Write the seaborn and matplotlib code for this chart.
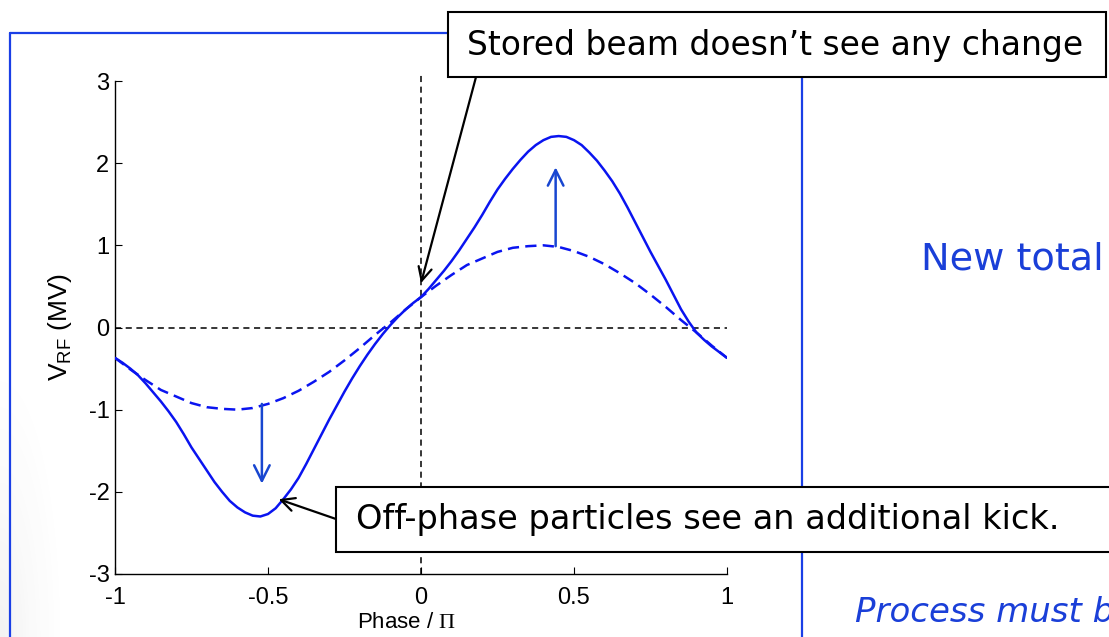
import numpy as np
import pandas as pd
import matplotlib
matplotlib.use("Agg")
import matplotlib.pyplot as plt
import seaborn as sns
from matplotlib.lines import Line2D
from matplotlib.patches import Rectangle

# ---------------- data ----------------
# dashed curve: original RF voltage
phase_old = [-1.00, -0.95, -0.90, -0.85, -0.80, -0.75, -0.70, -0.65, -0.60, -0.55,
             -0.50, -0.45, -0.40, -0.35, -0.30, -0.25, -0.20, -0.15, -0.10, -0.05,
             0.00, 0.05, 0.10, 0.15, 0.20, 0.25, 0.30, 0.35, 0.40, 0.45,
             0.50, 0.55, 0.60, 0.65, 0.70, 0.75, 0.80, 0.85, 0.90, 0.95, 1.00]
v_old = [-0.37, -0.51, -0.64, -0.76, -0.84, -0.92, -0.97, -0.99, -1.00, -0.98,
         -0.93, -0.86, -0.77, -0.66, -0.54, -0.40, -0.25, -0.09, 0.06, 0.22,
         0.37, 0.51, 0.64, 0.76, 0.84, 0.92, 0.97, 0.99, 1.00, 0.98,
         0.93, 0.86, 0.77, 0.66, 0.54, 0.40, 0.25, 0.09, -0.06, -0.22, -0.37]

# solid curve: new total RF voltage
phase_new = [-1.000, -0.975, -0.950, -0.925, -0.900, -0.875, -0.850, -0.825, -0.800, -0.775,
             -0.750, -0.725, -0.700, -0.675, -0.650, -0.625, -0.600, -0.575, -0.550, -0.525,
             -0.500, -0.475, -0.450, -0.425, -0.400, -0.375, -0.350, -0.325, -0.300, -0.275,
             -0.250, -0.225, -0.200, -0.175, -0.150, -0.125, -0.100, -0.075, -0.050, -0.025,
             0.000, 0.025, 0.050, 0.075, 0.100, 0.125, 0.150, 0.175, 0.200, 0.225,
             0.250, 0.275, 0.300, 0.325, 0.350, 0.375, 0.400, 0.425, 0.450, 0.475,
             0.500, 0.525, 0.550, 0.575, 0.600, 0.625, 0.650, 0.675, 0.700, 0.725,
             0.750, 0.775, 0.800, 0.825, 0.850, 0.875, 0.900, 0.925, 0.950, 0.975, 1.000]
v_new = [-0.37, -0.43, -0.50, -0.58, -0.68, -0.79, -0.90, -1.02, -1.15, -1.30,
         -1.46, -1.60, -1.74, -1.88, -2.00, -2.11, -2.19, -2.25, -2.29, -2.30,
         -2.27, -2.20, -2.09, -1.97, -1.83, -1.66, -1.48, -1.30, -1.12, -0.95,
         -0.78, -0.62, -0.47, -0.33, -0.20, -0.08, 0.03, 0.13, 0.22, 0.30,
         0.37, 0.47, 0.58, 0.69, 0.81, 0.94, 1.08, 1.22, 1.37, 1.53,
         1.68, 1.81, 1.93, 2.04, 2.14, 2.22, 2.28, 2.32, 2.33, 2.32,
         2.28, 2.22, 2.13, 2.03, 1.91, 1.78, 1.63, 1.46, 1.28, 1.10,
         0.92, 0.75, 0.58, 0.40, 0.22, 0.07, -0.06, -0.15, -0.23, -0.30, -0.37]

x_ticks = [-1, -0.5, 0, 0.5, 1]
x_ticklabels = ["-1", "-0.5", "0", "0.5", "1"]
y_ticks = [-3, -2, -1, 0, 1, 2, 3]
y_ticklabels = ["-3", "-2", "-1", "0", "1", "2", "3"]

# blue "change" arrows: (x, y_from, y_to)
kick_arrows = [(-0.52, -0.93, -1.90), (0.44, 0.99, 1.95)]
# annotation targets (data coords)
stored_target = (0.0, 0.54)
offphase_target = (-0.465, -2.09)

label_stored = "Stored beam doesn\u2019t see any change"
label_off = "Off-phase particles see an additional kick."
label_new = "New total"
label_process = "Process must be"

# ---------------- figure ----------------
sns.set_theme(style="white")
plt.rcParams["font.family"] = ["DejaVu Sans"]
plt.rcParams["mathtext.fontset"] = "custom"
plt.rcParams["mathtext.rm"] = "Liberation Serif"
plt.rcParams["mathtext.sf"] = "Liberation Sans"

W, H = 1109, 637
fig = plt.figure(figsize=(W / 100, H / 100), dpi=100)
fig.patch.set_facecolor("white")

def fx(px):
    return px / W

def fy(py):
    return 1 - py / H

# faint grey slide shading in lower-left corner
bg = fig.add_axes([0, 0, 1, 1], zorder=-5)
yy, xx = np.mgrid[0:H, 0:W]
d = np.sqrt((xx / 70.0) ** 2 + ((H - yy) / 300.0) ** 2)
alpha = np.clip(1 - d, 0, 1) ** 1.5 * 0.07
img = np.zeros((H, W, 4))
img[..., :3] = 0.3
img[..., 3] = alpha
bg.imshow(img, extent=[0, 1, 0, 1], aspect="auto", origin="upper")
bg.axis("off")

ax = fig.add_axes([fx(115), fy(574), fx(727) - fx(115), fy(81) - fy(574)])
ax.set_facecolor("white")

df_old = pd.DataFrame({"phase": phase_old, "v": v_old})
df_new = pd.DataFrame({"phase": phase_new, "v": v_new})
curve_col = "#0a14f0"
sns.lineplot(data=df_old, x="phase", y="v", ax=ax, color=curve_col, lw=1.8,
             linestyle=(0, (4.5, 2.5)), zorder=3)
sns.lineplot(data=df_new, x="phase", y="v", ax=ax, color=curve_col, lw=1.8, zorder=3)

# reference dashed lines
ax.plot([-1, 1], [0, 0], color="black", lw=1.1, ls=(0, (4, 3)), zorder=2)
ax.plot([0, 0], [-3, 3.07], color="black", lw=1.1, ls=(0, (4, 3)), zorder=2, clip_on=False)

# kick arrows
for xa, y0, y1 in kick_arrows:
    ax.annotate("", xy=(xa, y1), xytext=(xa, y0),
                arrowprops=dict(arrowstyle="->", color="#1846d0", lw=1.8,
                                mutation_scale=28, shrinkA=0, shrinkB=0))

ax.set_xlim(-1, 1)
ax.set_ylim(-3, 3)
ax.set_xticks(x_ticks)
ax.set_xticklabels(x_ticklabels)
ax.set_yticks(y_ticks)
ax.set_yticklabels(y_ticklabels)
tick_font = ["Liberation Sans"]
for lab in ax.get_xticklabels() + ax.get_yticklabels():
    lab.set_family(tick_font)
    lab.set_fontsize(17)
    lab.set_color("black")
ax.tick_params(axis="both", direction="in", length=5, width=0.8, colors="black",
               bottom=True, left=True, top=False, right=False)
ax.tick_params(axis="x", pad=9)
ax.tick_params(axis="y", pad=4)
for s in ["top", "right"]:
    ax.spines[s].set_visible(False)
for s in ["left", "bottom"]:
    ax.spines[s].set_color("black")
    ax.spines[s].set_linewidth(1.0)

ax.set_xlabel("Phase / $\\Pi$", fontsize=16, family=tick_font, color="black", labelpad=0)
ax.xaxis.set_label_coords((407 - 115) / (727 - 115), -(622 - 574) / (574 - 81))
ax.xaxis.label.set_va("center")
ax.set_ylabel("V$_{\\mathsf{RF}}$ (MV)", fontsize=19, family=tick_font, color="black")
ax.yaxis.set_label_coords(-(115 - 60) / (727 - 115), (574 - 327) / (574 - 81))
ax.yaxis.label.set_va("center")

# ---------------- slide decorations ----------------
frame_col = "#1a3fe6"
fig.add_artist(Line2D([fx(10), fx(10)], [fy(33), fy(640)], color=frame_col, lw=1.6,
                      transform=fig.transFigure, zorder=1))
fig.add_artist(Line2D([fx(10), fx(450)], [fy(33), fy(33)], color=frame_col, lw=1.6,
                      transform=fig.transFigure, zorder=1))
fig.add_artist(Line2D([fx(802), fx(802)], [fy(77), fy(640)], color=frame_col, lw=1.6,
                      transform=fig.transFigure, zorder=1))

# annotation boxes
fig.add_artist(Rectangle((fx(448), fy(77)), fx(1106) - fx(448), fy(12) - fy(77),
                         transform=fig.transFigure, facecolor="white", edgecolor="black",
                         lw=1.5, zorder=10))
fig.text(fx(467), fy(45), label_stored, fontsize=23.7, color="black",
         va="center", ha="left", zorder=11, family="DejaVu Sans")
fig.add_artist(Rectangle((fx(336), fy(552)), fx(1125) - fx(336), fy(487) - fy(552),
                         transform=fig.transFigure, facecolor="white", edgecolor="black",
                         lw=1.5, zorder=10))
fig.text(fx(356), fy(519), label_off, fontsize=24.2, color="black",
         va="center", ha="left", zorder=11, family="DejaVu Sans")

ax.annotate("", xy=stored_target, xycoords="data",
            xytext=(fx(476), fy(77)), textcoords="figure fraction",
            arrowprops=dict(arrowstyle="->", color="black", lw=1.6, mutation_scale=24,
                            shrinkA=0, shrinkB=0), annotation_clip=False, zorder=12)
ax.annotate("", xy=offphase_target, xycoords="data",
            xytext=(fx(336), fy(519)), textcoords="figure fraction",
            arrowprops=dict(arrowstyle="->", color="black", lw=1.6, mutation_scale=24,
                            shrinkA=0, shrinkB=0), annotation_clip=False, zorder=12)

fig.text(fx(921), fy(260), label_new, fontsize=27.5, color="#1a3fd8", va="center", ha="left")
fig.text(fx(855), fy(612), label_process, fontsize=24.5, color="#1a3fd8", va="center",
         ha="left", style="italic")

fig.savefig("out.png", dpi=100, facecolor="white")
